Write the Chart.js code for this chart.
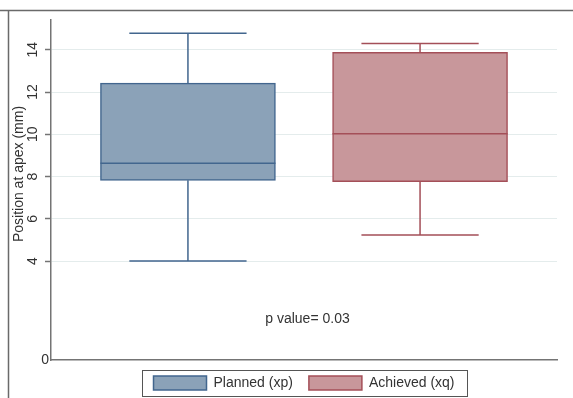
<!DOCTYPE html>
<html>
<head>
<meta charset="utf-8">
<script src="https://cdn.jsdelivr.net/npm/chart.js@4.4.1/dist/chart.umd.min.js"></script>
<style>
  html, body { margin: 0; padding: 0; background: #fff; overflow: hidden; }
  canvas { display: block; }
</style>
</head>
<body>
<canvas id="c" width="573" height="400"></canvas>
<script>
// Box-plot summaries: position at apex (mm), planned vs achieved
const groups    = ['Planned (xp)', 'Achieved (xq)'];
const positions = [1, 2];
const mins      = [4.00, 5.23];
const q1s       = [7.82, 7.76];
const medians   = [8.63, 10.02];
const q3s       = [12.42, 13.88];
const maxs      = [14.78, 14.30];

// Axis text
const yTicks    = [4, 6, 8, 10, 12, 14];
const baseLabel = '0';
const axisTitle = 'Position at apex (mm)';
const note      = 'p value= 0.03';

const fills = ['#8ba2b8', '#c8979b'];
const edges = ['#42668e', '#a44f58'];
const axisGrey = '#747474';
const textColor = '#333333';

Chart.defaults.font.family = '"Liberation Sans", Arial, Helvetica, sans-serif';
Chart.defaults.font.size = 14;
Chart.defaults.color = textColor;

// Whiskers, medians, frame and free text drawn with the chart's own scales
const boxPlot = {
  id: 'boxPlot',
  beforeDraw(chart) {
    const c = chart.ctx;
    c.save();
    c.strokeStyle = '#6a6a6a';
    c.lineWidth = 1.5;
    c.beginPath();
    c.moveTo(0, 10.5); c.lineTo(chart.width, 10.5);
    c.moveTo(8.5, 10.5); c.lineTo(8.5, chart.height);
    c.stroke();
    c.restore();
  },
  afterDatasetsDraw(chart) {
    const { ctx, scales: { x, y } } = chart;
    groups.forEach((g, i) => {
      const bar = chart.getDatasetMeta(i).data[0];
      const cx = x.getPixelForValue(positions[i]);
      const half = bar.width / 2;
      const cap = half * 0.67;
      const pMin = y.getPixelForValue(mins[i]);
      const pQ1 = y.getPixelForValue(q1s[i]);
      const pMed = y.getPixelForValue(medians[i]);
      const pQ3 = y.getPixelForValue(q3s[i]);
      const pMax = y.getPixelForValue(maxs[i]);
      ctx.save();
      ctx.strokeStyle = edges[i];
      ctx.lineWidth = 1.5;
      ctx.beginPath();
      ctx.moveTo(cx - half, pMed); ctx.lineTo(cx + half, pMed);
      ctx.moveTo(cx, pQ3); ctx.lineTo(cx, pMax);
      ctx.moveTo(cx, pQ1); ctx.lineTo(cx, pMin);
      ctx.moveTo(cx - cap, pMax); ctx.lineTo(cx + cap, pMax);
      ctx.moveTo(cx - cap, pMin); ctx.lineTo(cx + cap, pMin);
      ctx.stroke();
      ctx.restore();
    });
  },
  afterDraw(chart) {
    const { ctx, chartArea, scales: { x, y } } = chart;
    ctx.save();
    ctx.fillStyle = textColor;
    ctx.font = '14px "Liberation Sans", Arial, sans-serif';

    // y-axis title
    ctx.save();
    ctx.translate(19, chartArea.top + 154);
    ctx.rotate(-Math.PI / 2);
    ctx.textAlign = 'center';
    ctx.textBaseline = 'middle';
    ctx.fillText(axisTitle, 0, 0);
    ctx.restore();

    // label at the base of the y axis
    ctx.textAlign = 'right';
    ctx.textBaseline = 'middle';
    ctx.fillText(baseLabel, y.right - 2, chartArea.bottom);

    // test result
    ctx.textAlign = 'center';
    ctx.fillText(note, x.getPixelForValue(1.515), y.getPixelForValue(1.25));

    // frame round the legend
    const hb = chart.legend.legendHitBoxes;
    if (hb && hb.length) {
      const last = hb[hb.length - 1];
      const left = hb[0].left - 12;
      const right = last.left + last.width + 12;
      const top = hb[0].top - 6;
      ctx.strokeStyle = '#555';
      ctx.lineWidth = 1;
      ctx.strokeRect(Math.round(left) + 0.5, Math.round(top) + 0.5, Math.round(right - left), 26);
    }
    ctx.restore();
  }
};

new Chart(document.getElementById('c'), {
  type: 'bar',
  data: {
    datasets: groups.map((g, i) => ({
      label: g,
      data: [{ x: positions[i], y: [q1s[i], q3s[i]] }],
      backgroundColor: fills[i],
      borderColor: edges[i],
      borderWidth: 1.5,
      borderSkipped: false,
      barThickness: 175,
      grouped: false
    }))
  },
  options: {
    responsive: false,
    animation: false,
    events: [],
    layout: { padding: { top: 20, right: 16, bottom: 0, left: 0 } },
    scales: {
      x: {
        type: 'linear',
        offset: false,
        min: 0.41,
        max: 2.59,
        ticks: { display: false },
        grid: { display: false, drawTicks: false, offset: false },
        border: { display: true, color: axisGrey, width: 1.5 },
        afterFit(s) { s.height = 0; }
      },
      y: {
        min: -0.685,
        max: 15.41,
        afterBuildTicks(s) { s.ticks = yTicks.map(v => ({ value: v })); },
        ticks: {
          minRotation: 90,
          maxRotation: 90,
          crossAlign: 'center',
          padding: 4,
          color: textColor,
          font: { size: 14 }
        },
        grid: {
          color: '#e4ecec',
          lineWidth: 1,
          tickColor: axisGrey,
          tickLength: 6,
          tickWidth: 1.5
        },
        border: { display: true, color: axisGrey, width: 1.5 },
        afterFit(s) { s.width = 51; }
      }
    },
    plugins: {
      tooltip: { enabled: false },
      legend: {
        position: 'bottom',
        fullSize: false,
        labels: {
          boxWidth: 53,
          boxHeight: 14,
          padding: 16,
          color: textColor,
          font: { size: 14 }
        }
      }
    }
  },
  plugins: [boxPlot]
});
</script>
</body>
</html>
